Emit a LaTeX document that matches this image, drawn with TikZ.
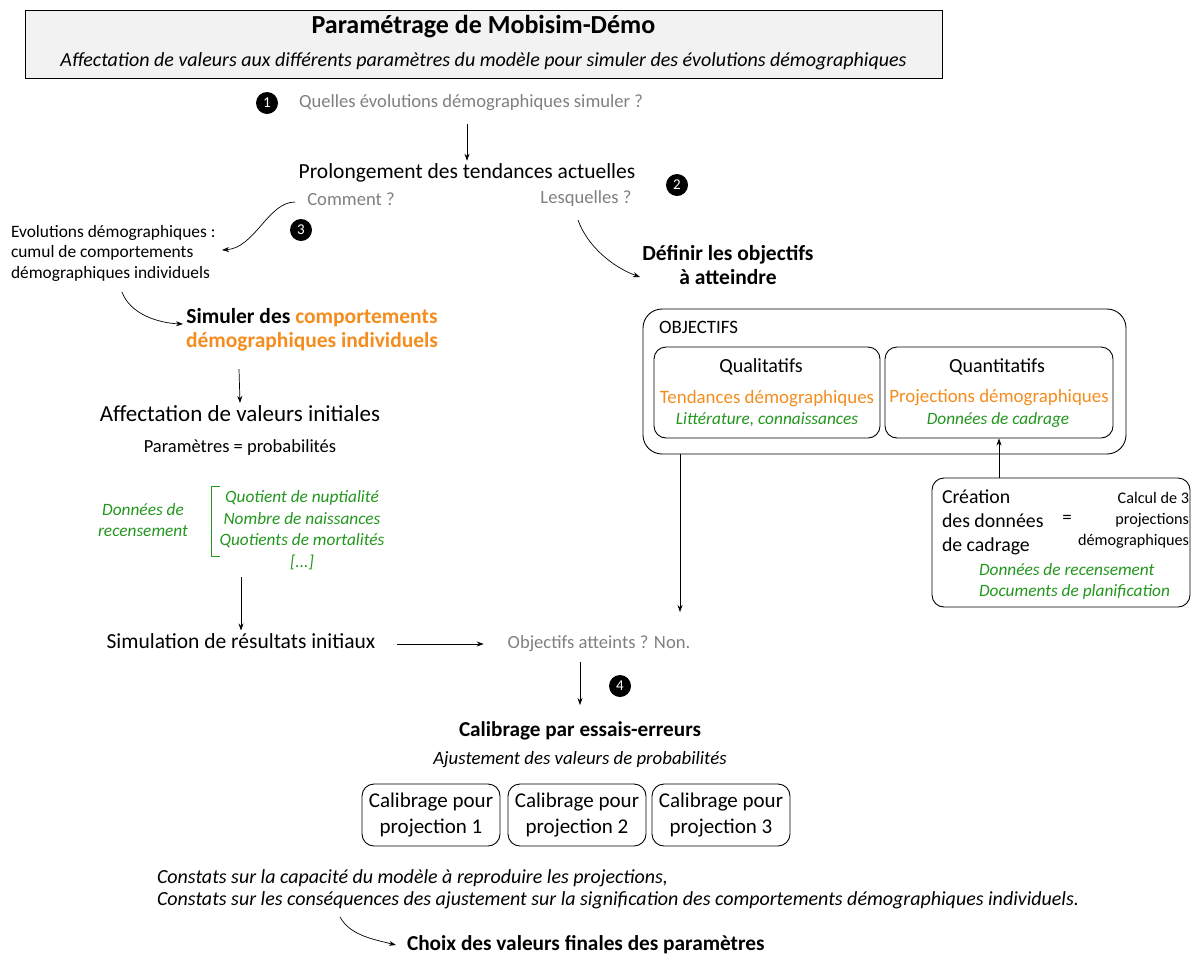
\documentclass[tikz,border=0pt]{standalone}
\usepackage{fontspec}
\setmainfont{Carlito}
\usetikzlibrary{arrows.meta}
\definecolor{orng}{RGB}{245,140,30}
\definecolor{grn}{RGB}{35,150,30}
\definecolor{gry}{RGB}{128,128,128}
\definecolor{boxfill}{RGB}{242,242,242}
\tikzset{
  t/.style={inner sep=0pt, outer sep=3pt, align=center},
  main/.style={t, font=\fontsize{21.5}{24}\selectfont},
  mainb/.style={t, font=\fontsize{21.5}{24}\selectfont\bfseries},
  small/.style={t, font=\fontsize{18.5}{20.5}\selectfont},
  gray/.style={t, text=gry, font=\fontsize{18.6}{20}\selectfont},
  green/.style={t, text=grn, font=\fontsize{17.3}{21.5}\selectfont\itshape},
  orange/.style={t, text=orng, font=\fontsize{18.9}{20}\selectfont},
  num/.style={circle, fill=black, text=white, inner sep=0pt, minimum size=22pt, font=\fontsize{15}{15}\selectfont},
  arr/.style={-{Stealth[length=7pt,width=5pt]}, line width=0.7pt},
  rbox/.style={draw, line width=0.9pt, rounded corners=12pt, inner sep=0pt},
  calbox/.style={rbox, minimum width=138pt, minimum height=62pt, font=\fontsize{21}{26}\selectfont, align=center},
}
\begin{document}
\begin{tikzpicture}[x=1pt,y=-1pt]
\useasboundingbox (0,0) rectangle (1193,959);
% title
\node[draw, fill=boxfill, line width=0.8pt, minimum width=917pt, minimum height=68pt, inner sep=0pt] (titlebox) at (483.5,44) {};
\node[t, font=\fontsize{26}{28}\selectfont\bfseries] (title) at (483.5,26.5) {Paramétrage de Mobisim-Démo};
\node[t, font=\fontsize{20}{22}\selectfont\itshape] (subtitle) at (483.5,61) {Affectation de valeurs aux différents paramètres du modèle pour simuler des évolutions démographiques};
% step 1
\node[num] (n1) at (267,103) {1};
\node[gray, anchor=west] (q1) at (296,103) {Quelles évolutions démographiques simuler ?};
\node[main] (prolong) at (467,173) {Prolongement des tendances actuelles};
\coordinate (q1a) at (467,124);
\draw[arr] (q1a) -- (prolong.north);
\node[gray] (comment) at (351,199) {Comment ?};
\node[gray] (lesq) at (586,199) {Lesquelles ?};
\node[num] (n2) at (677,185) {2};
\node[num] (n3) at (301,230) {3};
% left branch
\node[t, font=\fontsize{17.4}{20.5}\selectfont, anchor=north west, align=left] (evol) at (8,222) {Evolutions démographiques :\\cumul de comportements\\démographiques individuels};
\coordinate (c3s) at (295,202);
\coordinate (c3e) at (222,250);
\draw[arr] (c3s) .. controls (268,202) and (255,248) .. (c3e);
\node[mainb] (simuler) at (312,330) {Simuler des \textcolor{orng}{comportements}\\\textcolor{orng}{démographiques individuels}};
\coordinate (c4s) at (122,292);
\coordinate (c4e) at (183,324);
\draw[arr] (c4s) .. controls (130,314) and (158,323) .. (c4e);
\node[t, font=\fontsize{23}{24}\selectfont] (affect) at (240,414) {Affectation de valeurs initiales};
\coordinate (a1s) at (239,369);
\draw[arr] (a1s) -- (affect.north);
\node[small] (param) at (240,448) {Paramètres = probabilités};
\node[green] (recens) at (143,520) {Données de\\recensement};
\node[green] (liste) at (302,530) {Quotient de nuptialité\\Nombre de naissances\\Quotients de mortalités\\{[...]}};
\draw[grn, line width=0.8pt] (220,486) -- (211,486) -- (211,556) -- (220,556);
\node[main] (simul) at (241,641) {Simulation de résultats initiaux};
\coordinate (a2s) at (241,577);
\draw[arr] (a2s) -- (simul.north);
\node[gray] (atteint) at (599,644) {Objectifs atteints ? Non.};
\coordinate (a3s) at (397,644);
\draw[arr] (a3s) -- ([xshift=-21pt]atteint.west |- a3s);
% right branch
\node[mainb] (definir) at (728,265) {Définir les objectifs\\à atteindre};
\coordinate (c2s) at (578,220);
\coordinate (c2e) at (640,277);
\draw[arr] (c2s) .. controls (588,248) and (615,268) .. (c2e);
\node[rbox, rounded corners=19pt, minimum width=483pt, minimum height=145pt] (obj) at (884.5,381.5) {};
\node[t, anchor=west, font=\fontsize{18.9}{20}\selectfont] (objl) at (656,327) {OBJECTIFS};
\node[rbox, minimum width=226pt, minimum height=91pt] (qual) at (767,392.5) {};
\node[rbox, minimum width=228pt, minimum height=91pt] (quant) at (999,392.5) {};
\node[t, font=\fontsize{20}{22}\selectfont] (qualt) at (761,367) {Qualitatifs};
\node[orange] (tend) at (767,399) {Tendances démographiques};
\node[green] (litt) at (767,420) {Littérature, connaissances};
\node[t, font=\fontsize{20}{22}\selectfont] (quantt) at (997,367) {Quantitatifs};
\node[orange] (proj) at (999,398) {Projections démographiques};
\node[green] (donn) at (998,420) {Données de cadrage};
\node[rbox, minimum width=258pt, minimum height=129pt] (crea) at (1061,542.5) {};
\draw[arr] (quant.south |- crea.north) -- (quant.south);
\node[t, anchor=north west, align=left, font=\fontsize{19.8}{24}\selectfont] (creat) at (939,487) {Création\\des données\\de cadrage};
\node[t, font=\fontsize{19}{20}\selectfont] (eq) at (1067,519) {=};
\node[t, anchor=north east, align=right, font=\fontsize{16.2}{21}\selectfont] (calc) at (1192,489) {Calcul de 3\\projections\\démographiques};
\node[green, anchor=north west, align=left] (doc) at (976,560) {Données de recensement\\Documents de planification};
\coordinate (a4) at (680,612);
\draw[arr] (obj.south -| a4) -- (a4);
% calibrage
\coordinate (a5s) at (580,662);
\node[t, font=\fontsize{21.2}{22}\selectfont\bfseries] (calib) at (580,731) {Calibrage par essais-erreurs};
\draw[arr] (a5s) -- (580,705) coordinate (a5e);
\node[num] (n4) at (620,686) {4};
\node[t, font=\fontsize{18.8}{20}\selectfont\itshape] (ajust) at (580,760) {Ajustement des valeurs de probabilités};
\node[calbox] (cal1) at (431,815) {Calibrage pour\\projection 1};
\node[calbox] (cal2) at (577,815) {Calibrage pour\\projection 2};
\node[calbox] (cal3) at (721,815) {Calibrage pour\\projection 3};
\node[t, anchor=north west, align=left, font=\fontsize{20}{22}\selectfont\itshape] (constats) at (154,867) {Constats sur la capacité du modèle à reproduire les projections,\\Constats sur les conséquences des ajustement sur la signification des comportements démographiques individuels.};
\coordinate (c5s) at (340,917);
\node[t, anchor=west, font=\fontsize{21.3}{22}\selectfont\bfseries] (choix) at (404,945) {Choix des valeurs finales des paramètres};
\draw[arr] (c5s) .. controls (350,935) and (372,939) .. ([xshift=-8pt]choix.west);
\end{tikzpicture}
\end{document}
